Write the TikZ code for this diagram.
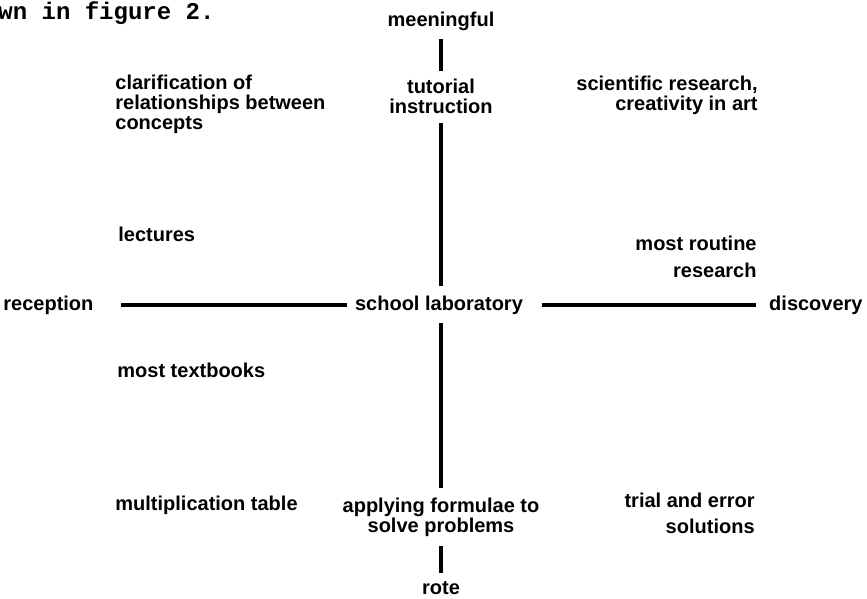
\documentclass[tikz,border=0pt]{standalone}
\usepackage{fontspec}
\setmainfont{Liberation Sans}
\newfontfamily\typewriter{Liberation Mono}

\tikzset{
  lbl/.style={font=\fontsize{10}{10}\selectfont\bfseries, inner sep=3pt},
  axisline/.style={black, line width=1.7pt}
}

\begin{document}
\begin{tikzpicture}[x=0.5pt, y=-0.5pt]
\useasboundingbox (0,0) rectangle (867,599);

% Running text of the page
\node[anchor=base west, inner sep=0pt, font=\typewriter\bfseries\fontsize{12}{12}\selectfont] (pagetext) at (-2,20) {wn in figure 2.};

% Ends of the two axes
\node[lbl, anchor=mid] (meaning) at (441,21) {meeningful};
\node[lbl, anchor=mid] (rote) at (441,589) {rote};
\node[lbl, anchor=mid west] (recep) at (-3,305) {reception};
\node[lbl, anchor=mid east] (disc) at (869,305) {discovery};

% On the axes
\node[lbl, align=center] (tutor) at (441,96) {tutorial\\instruction};
\node[lbl, anchor=mid] (school) at (439,305) {school laboratory};
\node[lbl, align=center] (apply) at (441,517) {applying formulae to\\solve problems};

% Left side
\node[lbl, align=left, anchor=west] (clarif) at (109,104) {clarification of\\relationships between\\concepts};
\node[lbl, anchor=mid west] (lect) at (112,236) {lectures};
\node[lbl, anchor=mid west] (textbk) at (111,372) {most textbooks};
\node[lbl, anchor=mid west] (multab) at (109,505) {multiplication table};

% Right side
\node[lbl, align=right, anchor=east] (science) at (764,95) {scientific research,\\creativity in art};
\node[lbl, align=right, anchor=east] (routine) at (763,257) {most routine\\[3.5pt]research};
\node[lbl, align=right, anchor=east] (trial) at (761,513) {trial and error\\[3pt]solutions};

% Axes
\draw[axisline, shorten <=1pt, shorten >=0.5pt] (meaning) -- (tutor);
\draw[axisline, shorten <=1.5pt, shorten >=1.5pt] (tutor) -- (tutor |- school.north);
\draw[axisline, shorten <=1pt, shorten >=1.5pt] (apply |- school.south) -- (apply);
\draw[axisline, shorten <=1.5pt, shorten >=1pt] (apply) -- (rote);
\draw[axisline, shorten <=10.5pt, shorten >=1pt] (recep.mid east) -- (school.mid west);
\draw[axisline, shorten <=6.5pt, shorten >=3.5pt] (school.mid east) -- (disc.mid west);
\end{tikzpicture}
\end{document}
